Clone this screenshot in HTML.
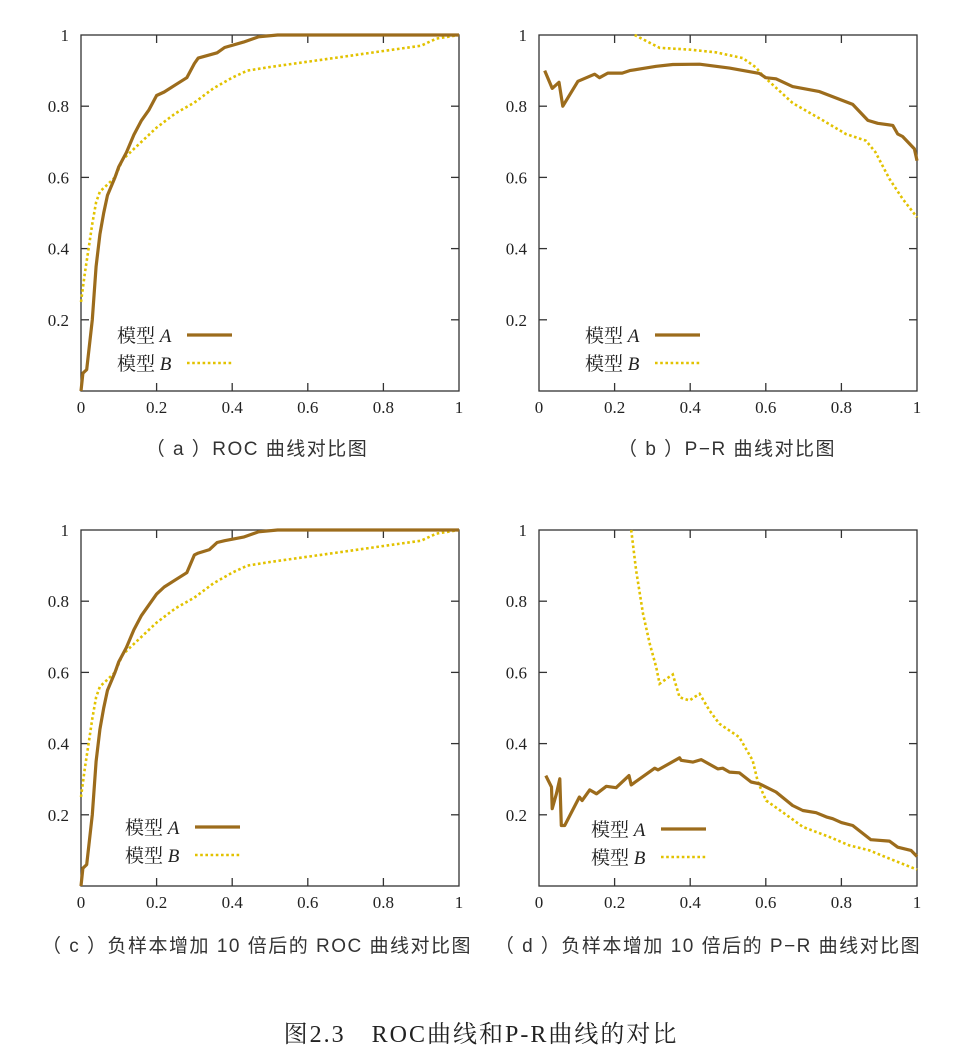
<!DOCTYPE html>
<html><head><meta charset="utf-8"><style>
html,body{margin:0;padding:0;background:#fff;}
svg{display:block;}
.tk{font-family:"Liberation Serif",serif;font-size:17px;fill:#222;}
.cap{font-family:"Liberation Sans","Noto Sans CJK SC",sans-serif;font-size:19px;fill:#333;letter-spacing:1.5px;}
.lg{font-family:"Liberation Serif","Noto Serif CJK SC",serif;font-size:19px;fill:#222;}
.ttl{font-family:"Liberation Serif","Noto Serif CJK SC",serif;font-size:24px;fill:#222;letter-spacing:2px;}
</style></head><body>
<svg id="fig" width="979" height="1060" viewBox="0 0 979 1060">
<text class="ttl" x="481" y="1042" text-anchor="middle">图2.3　ROC曲线和P-R曲线的对比</text>
</svg>
<script>
const rocAx=[0,0.005,0.015,0.03,0.04,0.05,0.06,0.07,0.09,0.1,0.12,0.14,0.16,0.18,0.2,0.22,0.25,0.28,0.3,0.31,0.36,0.38,0.43,0.47,0.52,1];
const rocAy=[0,0.05,0.06,0.2,0.35,0.44,0.5,0.55,0.6,0.63,0.67,0.72,0.76,0.79,0.83,0.84,0.86,0.88,0.92,0.935,0.95,0.965,0.98,0.995,1,1];
const rocBx=[0,0.01,0.02,0.03,0.04,0.05,0.07,0.09,0.11,0.14,0.17,0.2,0.25,0.3,0.35,0.4,0.44,0.5,0.6,0.7,0.8,0.9,0.94,1];
const rocBy=[0.25,0.33,0.4,0.47,0.53,0.56,0.58,0.6,0.65,0.68,0.71,0.74,0.78,0.81,0.85,0.88,0.9,0.91,0.925,0.94,0.955,0.97,0.99,1];
const prAx=[0.015,0.035,0.053,0.063,0.103,0.147,0.16,0.182,0.22,0.24,0.31,0.354,0.425,0.504,0.583,0.6,0.627,0.671,0.742,0.83,0.87,0.896,0.936,0.949,0.962,0.993,1];
const prAy=[0.9,0.85,0.867,0.8,0.87,0.89,0.88,0.893,0.893,0.9,0.912,0.917,0.918,0.907,0.892,0.88,0.877,0.855,0.841,0.805,0.76,0.752,0.746,0.722,0.715,0.68,0.647];
const prBx=[0.253,0.319,0.398,0.469,0.539,0.574,0.592,0.671,0.751,0.812,0.865,0.89,0.927,0.962,1];
const prBy=[1,0.964,0.959,0.951,0.935,0.909,0.886,0.809,0.76,0.722,0.703,0.671,0.596,0.54,0.488];
const roc2Ax=[0,0.005,0.015,0.03,0.04,0.05,0.06,0.07,0.09,0.1,0.12,0.14,0.16,0.18,0.2,0.22,0.25,0.28,0.3,0.31,0.34,0.36,0.38,0.43,0.47,0.52,1];
const roc2Ay=[0,0.05,0.06,0.2,0.35,0.44,0.5,0.55,0.6,0.63,0.67,0.72,0.76,0.79,0.82,0.84,0.86,0.88,0.93,0.935,0.945,0.965,0.97,0.98,0.995,1,1];
const roc2Bx=[0,0.01,0.02,0.03,0.04,0.05,0.07,0.09,0.11,0.14,0.17,0.2,0.25,0.3,0.35,0.4,0.44,0.5,0.6,0.7,0.8,0.9,0.94,1];
const roc2By=[0.25,0.33,0.4,0.47,0.53,0.56,0.58,0.6,0.65,0.68,0.71,0.74,0.78,0.81,0.85,0.88,0.9,0.91,0.925,0.94,0.955,0.97,0.99,1];
const pr2Ax=[0.018,0.033,0.035,0.046,0.055,0.059,0.068,0.107,0.114,0.134,0.152,0.178,0.204,0.238,0.244,0.306,0.315,0.372,0.376,0.407,0.429,0.473,0.486,0.504,0.53,0.561,0.583,0.627,0.671,0.698,0.733,0.76,0.777,0.8,0.83,0.878,0.927,0.949,0.984,1];
const pr2Ay=[0.31,0.278,0.217,0.259,0.301,0.17,0.17,0.25,0.24,0.27,0.259,0.28,0.276,0.31,0.284,0.331,0.326,0.36,0.353,0.348,0.355,0.329,0.331,0.32,0.318,0.292,0.287,0.264,0.226,0.212,0.206,0.194,0.189,0.178,0.17,0.13,0.126,0.109,0.1,0.083];
const pr2Bx=[0.244,0.257,0.275,0.293,0.31,0.319,0.337,0.354,0.372,0.398,0.425,0.451,0.477,0.53,0.565,0.579,0.601,0.662,0.698,0.768,0.821,0.874,0.927,1];
const pr2By=[1,0.887,0.765,0.68,0.615,0.568,0.582,0.594,0.53,0.521,0.54,0.493,0.456,0.418,0.353,0.292,0.24,0.194,0.166,0.138,0.114,0.1,0.077,0.046];
const xTicks=["0","0.2","0.4","0.6","0.8","1"];
const yTicks=["0.2","0.4","0.6","0.8","1"];

const NS="http://www.w3.org/2000/svg";
const svg=document.getElementById('fig');
function mk(tag,attrs,parent){const e=document.createElementNS(NS,tag);for(const k in attrs)e.setAttribute(k,attrs[k]);(parent||svg).appendChild(e);return e;}
function plot(name,L,T,R,B,Ax,Ay,Bx,By,lgX,lgY,cap,capX,capY){
  const g=mk('g',{});
  
  
  const sx=v=>L+v*(R-L), sy=v=>B-v*(B-T);
  const fr=mk('rect',{x:L,y:T,width:R-L,height:B-T,fill:'none',stroke:'#333','stroke-width':1.3},g);
  
  
  xTicks.forEach((t,i)=>{const v=i*0.2,x=sx(v);
    if(i>0&&i<5){mk('line',{x1:x,x2:x,y1:B,y2:B-8,stroke:'#333','stroke-width':1.3},g);mk('line',{x1:x,x2:x,y1:T,y2:T+8,stroke:'#333','stroke-width':1.3},g);}
    const tx=mk('text',{x:x,y:B+22,'text-anchor':'middle',class:'tk'},g);tx.textContent=t;
    
    });
  yTicks.forEach((t,i)=>{const v=(i+1)*0.2,y=sy(v);
    if(i<4){mk('line',{x1:R,x2:R-8,y1:y,y2:y,stroke:'#333','stroke-width':1.3},g);mk('line',{x1:L,x2:L+8,y1:y,y2:y,stroke:'#333','stroke-width':1.3},g);}
    const tx=mk('text',{x:L-12,y:y+6,'text-anchor':'end',class:'tk'},g);tx.textContent=t;
    
    });
  const pts=(X,Y)=>X.map((x,i)=>sx(x).toFixed(1)+','+sy(Y[i]).toFixed(1)).join(' ');
  const lb=mk('polyline',{points:pts(Bx,By),fill:'none',stroke:'#e2c200','stroke-width':2.6,'stroke-dasharray':'2.6 2.6'},g);
  
  
  const la=mk('polyline',{points:pts(Ax,Ay),fill:'none',stroke:'#9c6c1c','stroke-width':3.2,'stroke-linejoin':'round'},g);
  
  
  [['A',0],['B',1]].forEach(([n,k])=>{const y=lgY+k*28;
    const t=mk('text',{x:lgX,y:y+7,class:'lg'},g);t.innerHTML='模型 <tspan font-style="italic">'+n+'</tspan>';
    
    
    const l=mk('line',{x1:lgX+70,x2:lgX+115,y1:y,y2:y,stroke:k?'#e2c200':'#9c6c1c','stroke-width':k?2.6:3.2,'stroke-dasharray':k?'2.6 2.6':'none'},g);
    
    });
  const c=mk('text',{x:capX,y:capY,'text-anchor':'middle',class:'cap'},g);c.textContent=cap;
  
  
}
plot('roc-plot-a',81,35,459,391,rocAx,rocAy,rocBx,rocBy,117,335,'（ a ）ROC 曲线对比图',257,455);
plot('pr-plot-b',539,35,917,391,prAx,prAy,prBx,prBy,585,335,'（ b ）P−R 曲线对比图',727,455);
plot('roc-plot-c',81,530,459,886,roc2Ax,roc2Ay,roc2Bx,roc2By,125,827,'（ c ）负样本增加 10 倍后的 ROC 曲线对比图',257,952);
plot('pr-plot-d',539,530,917,886,pr2Ax,pr2Ay,pr2Bx,pr2By,591,829,'（ d ）负样本增加 10 倍后的 P−R 曲线对比图',708,952);
</script>
</body></html>
